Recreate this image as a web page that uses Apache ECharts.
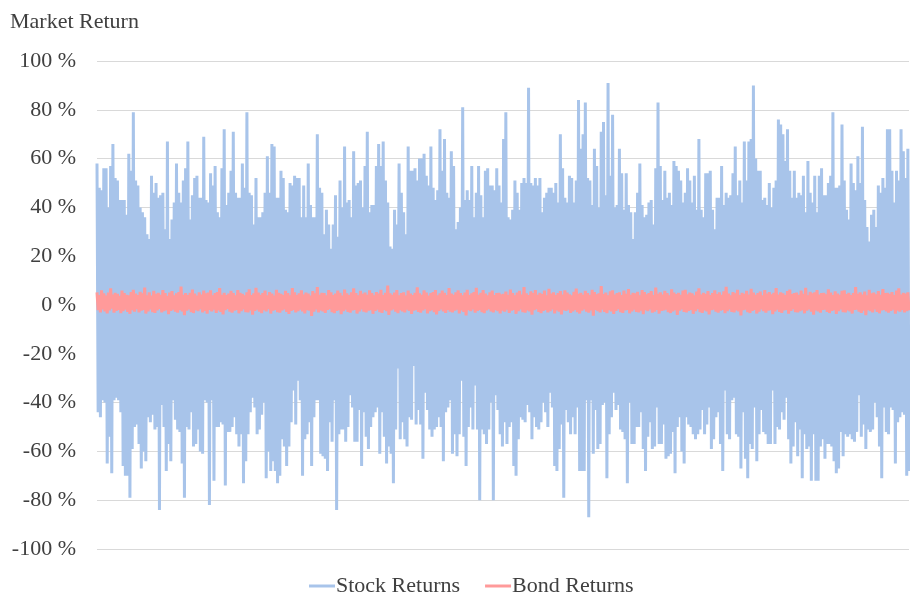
<!DOCTYPE html>
<html><head><meta charset="utf-8">
<script src="https://cdn.jsdelivr.net/npm/echarts@6/dist/echarts.min.js"></script>
<style>html,body{margin:0;padding:0;background:#fff}#c{width:910px;height:592px}</style>
</head><body><div id="c"></div>
<script>
const chartTitle = 'Market Return';
const seriesNames = ['Stock Returns', 'Bond Returns'];
const yMin = -100, yMax = 100, yStep = 20;

// Stock returns: alternating up-swings (highs) and down-swings (lows), read left to right
const stockHighs = [
58,48,47,56,56,40,57,66,52,51, 43,43,43,37,62,55,79,51,49,40,
38,36,29,27,53,46,50,44,45,46, 31,67,27,35,42,58,46,42,51,56,
67,35,45,52,53,44,44,69,43,42, 54,49,57,38,36,56,72,41,46,55,
71,46,44,44,58,48,79,46,45,33, 52,36,36,38,46,61,46,66,65,44,
44,55,52,39,38,50,49,53,52,52, 36,49,36,58,41,36,36,70,48,46,
29,39,33,23,33,45,28,51,40,65, 42,43,36,63,49,50,51,
40,57,71,38,41,41,57,66,57,67, 51,42,24,23,39,33,58,46,38,29,
65,55,55,56,51,60,60,62,53,49, 65,48,43,47,72,55,68,46,44,63,
57,31,34,40,81,43,47,43,57,36, 46,57,45,36,55,56,49,49,47,56,
49,42,68,79,36,35,39,51,46,39, 50,52,50,89,50,49,52,49,52,38,
44,46,48,48,46,50,42,70,56,44, 42,53,52,42,51,84,64,70,83,52,
51,41,64,57,40,71,75,45,91,53, 78,40,41,
64,54,39,54,41,38,27,38,46,58, 41,36,37,42,43,33,56,83,57,43,
55,44,46,41,59,57,55,51,42, 46,56,51,42,53,39,68,39,36,54,
54,55,39,31,44,44,57,41,46, 44,45,54,65,45,51,42,67,51,67,
68,90,60,55,55,43,44,41,50,40, 48,51,76,74,70,59,72,55,44,55,
44,46,45,53,38,59,46,42,53,38, 53,56,45,45,50,53,79,48,48,49,
74,51,39,35,58,50,47,61,50,73, 43,32,26,37,39,32,49,46,52,48,
72,72,55,42,55,51,72,63,52,64
];
const stockLows = [
-44,-46,-39,-40,-65,-54,-69,-39,-38, -39,-44,-66,-70,-70,-79,-59,-50,-49,
-57,-67,-60,-64,-46,-48,-45,-51,-50,-84, -41,-50,-68,-57,-64,-39,-47,-51,-52,
-65,-79,-50,-51,-44,-58,-57,-51,-60,-61, -39,-40,-82,-39,-72,-50,-50,-48,-49,
-74,-52,-52,-50,-46,-53,-58,-53,-73,-64, -53,-44,-38,-42,-53,-51,-45,-40,-71,
-60,-68,-64,-68,-73,-70,-55,-58,-66,-58, -48,-35,-49,-31,-39,-70,-55,-53,-48,-66,
-46,-39,-39,-61,-62,-63,-68,-48,-56, -39,-84,-53,-51,-51,-56,-50,-37,-42,
-56,-56,-43,-66,
-44,-54,-59,-50,-46,-44,-42,-61,-44, -54,-65,-58,-61,-73,-51,-26,-55,-48,
-55,-58,-46,-47,-25,-49,-43,-49,-63,-36, -43,-51,-54,-51,-50,-46,-50,-64,-44,
-42,-39,-61,-53,-62,-53,-31,-54,-66,-50, -42,-51,-33,-51,-80,-51,-53,-57,-51,
-40,-80,-37,-43,-53,-58,-48,-57,-50,-48, -66,-70,-55,-46,-47,-48,-41,-44,-55,
-46,-50,-51,-48,-40,-44,-50,-36,-42,-66, -68,-59,-49,-79,-43,-48,-53,-46,-53,
-42,-68,-68,-68,-39,-87,-39,-61,-43,-59, -57,-41,-40,-71,-53,-46,-36,-43,-41,
-51,-52,-55,-73,-40,-57,-57,-50,-50,-44, -59,-68,-54,-48,-59,-58,-42,-57,-57,-49,
-63,-62,-61,-52,-69,-50,-46,-60,-65,-46, -49,-50,-53,-55,-53,-51,-43,-53,-49,-42,
-59,-55,-46,-44,-57,-68,-35,-53,-55,-39, -38,-53,-54,-67,-44,-63,-71,-57,-59,-42,
-64,-53,-43,-52,-53,-57,-57,-35,-57,-50, -51,-44,-47,-38,-55,-65,-58,-48,-62,-51,
-71,-53,-59,-58,-72,-53,-72,-72,-58,-55, -63,-57,-57,-58,-64,-69,-67,-52,-62,-53,
-54,-53,-55,-56,-52,-37,-54,-49,-59,-51, -52,-51,-40,-46,-58,-71,-42,-52,-53,-42,
-43,-65,-48,-46,-44,-45,-70,-68
];

// Bond returns: alternating highs and lows, read left to right
const bondHighs = [
5.2,4.1,6.0,4.8,3.9,5.1,6.8,4.3,5.0,4.6, 3.8,5.9,4.9,4.2,4.0,5.3,6.2,4.7,4.1,5.4,
4.8,7.1,4.0,5.2,3.9,5.8,4.6,5.0,4.2,6.1, 4.9,3.8,5.1,5.7,4.0,4.8,5.3,7.6,4.2,4.9,
4.1,5.0,6.3,4.7,3.9,5.2,4.3,5.9,4.8,5.1, 6.0,4.0,4.9,5.3,6.9,4.2,5.0,4.1,4.7,5.8,
4.9,3.9,6.1,5.0,4.6,4.0,5.2,6.4,4.1,4.8, 7.0,5.1,4.2,4.9,5.9,4.0,5.3,4.7,3.8,6.2,
5.0,4.6,4.1,5.8,4.9,4.0,6.9,5.2,4.1,4.8, 6.0,4.3,5.1,4.7,3.9,5.7,4.8,7.3,4.2,5.0,
4.9,4.0,6.1,5.2,4.1,4.7,5.9,5.0,3.9,6.3, 4.8,4.1,5.2,6.8,4.9,4.0,5.8,4.6,5.1,4.2,
6.0,4.9,4.0,5.3,4.7,6.2,4.1,5.0,8.0,4.8, 4.2,5.1,6.1,4.0,4.9,5.2,3.9,5.9,4.7,4.1,
5.0,7.2,4.8,4.2,6.0,5.1,3.9,4.9,5.3,6.1, 4.0,4.8,5.9,5.0,4.1,6.9,4.7,4.2,5.2,6.0,
4.9,4.0,5.1,6.2,4.1,4.8,5.3,7.0,4.2,5.0, 6.1,4.7,4.0,5.2,5.9,4.1,4.9,5.0,4.4,
4.6,5.5,4.2,6.3,4.9,4.0,5.1,5.8,4.3,7.4, 4.8,4.1,5.6,4.9,6.1,4.2,5.0,4.5,5.9,4.0,
6.6,4.7,5.2,4.1,4.9,5.7,4.3,6.0,5.1,4.4, 4.0,5.4,6.7,4.6,5.0,4.2,5.8,4.9,4.1,6.2,
5.3,4.4,4.8,7.8,4.5,5.1,4.0,5.6,6.0,4.3, 4.9,5.2,4.1,5.9,4.6,6.5,4.2,5.0,4.8,5.4,
4.0,6.1,5.3,4.4,4.9,5.7,4.1,7.1,4.6,5.2, 4.3,5.8,4.9,4.0,6.4,5.1,4.5,5.0,4.2,5.9,
6.2,4.4,5.1,4.8,4.0,5.5,6.8,4.3,5.0,4.6, 5.7,4.1,4.9,6.0,4.5,5.2,4.2,5.6,7.5,4.7,
4.0,5.3,4.8,6.2,4.1,5.0,4.6,5.8,4.3,6.6, 5.1,4.2,4.9,5.5,4.0,6.1,4.7,5.3,4.4,5.0,
6.9,4.3,5.2,4.8,4.1,5.7,6.3,4.5,4.9,5.1, 4.2,5.9,4.6,7.0,4.0,5.4,4.8,5.2,6.1,4.3,
4.9,5.0,4.4,6.4,5.1,4.1,5.6,4.7,4.2,5.8, 6.0,4.5,5.0,4.1,4.9,7.3,4.6,5.2,4.3,5.5,
4.0,6.2,4.8,5.1,4.4,5.7,4.2,6.5,4.9,5.0, 4.6,5.3,4.1,5.9,6.8,4.3,5.0,4.7,5.2
];
const bondLows = [
-2.1,-3.0,-1.8,-2.6,-3.4,-2.2,-1.5,-3.1,-2.4,-2.0, -3.3,-2.5,-1.9,-2.8,-3.6,-2.1,-2.7,-1.7,-3.0,-2.3,
-2.0,-3.5,-2.6,-1.8,-2.9,-3.2,-2.2,-1.6,-3.0,-2.5, -2.1,-3.8,-2.4,-1.9,-2.7,-3.1,-2.0,-2.6,-4.2,-2.3,
-1.8,-2.9,-3.3,-2.1,-2.5,-1.7,-3.0,-2.4,-3.6,-2.0, -2.6,-1.9,-3.2,-2.2,-2.8,-3.9,-2.1,-1.6,-2.7,-3.1,
-2.3,-2.0,-3.4,-2.5,-1.8,-2.9,-3.0,-2.2,-4.0,-2.4, -1.9,-2.7,-3.3,-2.1,-2.6,-1.7,-3.5,-2.3,-2.0,-2.9,
-3.1,-2.2,-1.8,-2.8,-3.7,-2.4,-2.0,-3.0,-2.5,-1.9, -2.6,-3.4,-2.1,-2.3,-4.5,-2.7,-1.8,-3.0,-2.2,-2.6,
-3.2,-2.0,-1.7,-2.9,-3.3,-2.4,-2.1,-3.8,-2.5,-1.9, -2.8,-3.1,-2.2,-2.0,-3.5,-2.6,-1.8,-2.7,-3.0,-2.3,
-2.1,-3.6,-2.4,-1.9,-2.9,-3.2,-2.0,-2.5,-4.1,-2.2, -1.8,-2.7,-3.3,-2.1,-2.6,-3.0,-1.9,-2.4,-3.7,-2.3,
-2.0,-2.8,-3.1,-2.2,-1.7,-3.4,-2.5,-2.1,-2.9,-3.9, -2.4,-1.8,-2.6,-3.2,-2.0,-2.7,-3.0,-2.3,-1.9,-3.5,
-2.2,-2.8,-4.3,-2.1,-2.5,-1.8,-3.1,-2.4,-2.0,-2.9, -3.3,-2.2,-1.7,-2.6,-3.0,-2.1,-2.5,-3.4,-2.3,
-2.7,-1.9,-3.2,-2.3,-2.0,-3.6,-2.5,-1.8,-2.9,-3.1, -2.2,-2.6,-4.0,-2.1,-1.7,-2.8,-3.3,-2.4,-2.0,-3.0,
-2.5,-1.8,-3.4,-2.2,-2.7,-3.9,-2.1,-2.4,-1.9,-3.2, -2.6,-2.0,-2.9,-3.5,-2.3,-1.8,-2.7,-3.1,-2.2,-4.4,
-2.0,-2.5,-3.0,-1.9,-2.8,-3.3,-2.1,-2.6,-3.7,-2.4, -1.7,-2.9,-3.2,-2.2,-2.0,-3.4,-2.6,-1.9,-2.8,-3.0,
-2.3,-3.8,-2.1,-2.5,-1.8,-3.1,-2.7,-2.0,-3.5,-2.4, -2.2,-1.9,-2.9,-3.3,-2.6,-2.1,-4.1,-2.3,-1.8,-2.8,
-3.0,-2.4,-2.0,-3.6,-2.5,-1.7,-2.9,-3.2,-2.2,-2.6, -3.9,-2.1,-1.9,-2.7,-3.1,-2.3,-2.0,-3.4,-2.5,-1.8,
-2.8,-3.0,-2.2,-2.6,-4.3,-2.1,-1.9,-2.9,-3.3,-2.4, -2.0,-3.5,-2.7,-1.8,-2.5,-3.1,-2.3,-2.1,-3.8,-2.6,
-1.9,-2.8,-3.2,-2.2,-2.0,-3.6,-2.4,-1.7,-2.9,-3.0, -2.5,-2.1,-3.4,-2.3,-1.8,-2.7,-4.0,-2.2,-2.6,-3.1,
-2.0,-1.9,-2.8,-3.3,-2.4,-2.1,-3.7,-2.5,-1.8,-2.9, -3.0,-2.2,-2.6,-3.5,-2.0,-1.9,-2.7,-3.2,-2.3,-4.2,
-2.1,-2.5,-3.0,-1.8,-2.8,-3.4,-2.2,-2.0,-2.6,-3.1, -2.4,-1.9,-3.6,-2.3,-2.7,-2.0,-3.0,-2.5,-2.2
];

function interleave(hi, lo) {
  const out = [];
  const n = Math.min(hi.length, lo.length);
  for (let i = 0; i < n; i++) { out.push(hi[i]); out.push(lo[i]); }
  return out;
}
const stockReturns = interleave(stockHighs, stockLows);
const bondReturns = interleave(bondHighs, bondLows);
const periods = stockReturns.map((_, i) => i + 1);

const FONT = "'Liberation Serif', 'DejaVu Serif', serif";
const TEXT = '#404040';
const chart = echarts.init(document.getElementById('c'), null, { renderer: 'canvas' });
chart.setOption({
  animation: false,
  backgroundColor: '#ffffff',
  title: {
    text: chartTitle, left: 5, top: 6,
    textStyle: { fontFamily: FONT, fontSize: 22, fontWeight: 'normal', color: TEXT }
  },
  legend: {
    data: seriesNames, top: 575, left: 309, padding: 0,
    icon: 'rect', itemWidth: 26, itemHeight: 3, itemGap: 25,
    textStyle: { fontFamily: FONT, fontSize: 22, color: TEXT, padding: [0, 0, 0, -4] }
  },
  grid: { left: 97, right: 1, top: 61, bottom: 43, containLabel: false },
  xAxis: {
    type: 'category', data: periods, boundaryGap: false,
    axisLine: { show: false }, axisTick: { show: false }, axisLabel: { show: false }, splitLine: { show: false }
  },
  yAxis: {
    type: 'value', min: yMin, max: yMax, interval: yStep,
    axisLine: { show: false }, axisTick: { show: false },
    axisLabel: { formatter: v => v + ' %', fontFamily: FONT, fontSize: 22, color: TEXT, margin: 21 },
    splitLine: { lineStyle: { color: '#D9D9D9', width: 1 } }
  },
  series: [
    { name: seriesNames[0], type: 'line', data: stockReturns, showSymbol: false, symbol: 'none',
      itemStyle: { color: '#A8C4EA' }, lineStyle: { color: '#A8C4EA', width: 3 } },
    { name: seriesNames[1], type: 'line', data: bondReturns, showSymbol: false, symbol: 'none',
      itemStyle: { color: '#FF9A9A' }, lineStyle: { color: '#FF9A9A', width: 3 } }
  ]
});
</script></body></html>
